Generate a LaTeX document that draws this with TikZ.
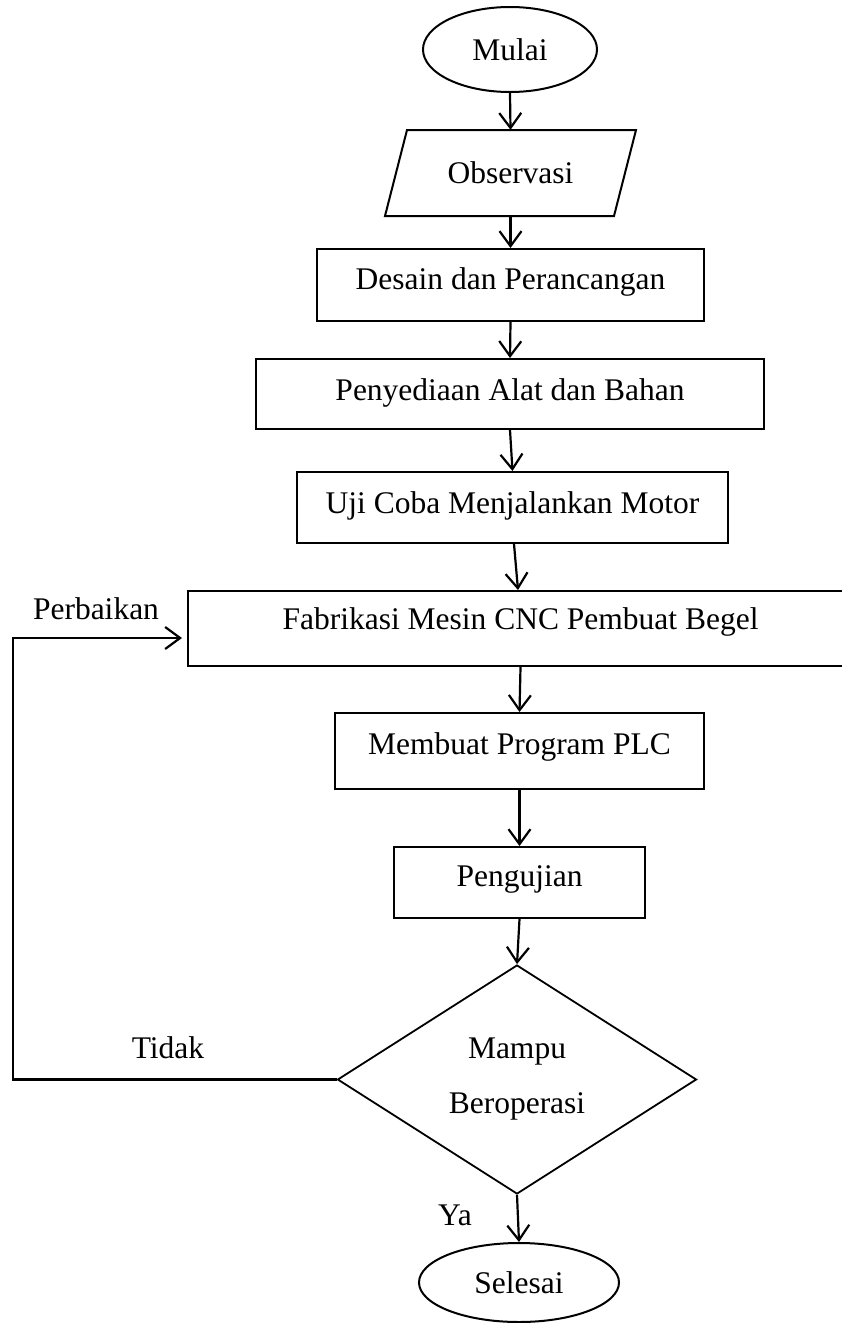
\documentclass[tikz,border=0pt]{standalone}
\usepackage{fontspec}
\setmainfont{Liberation Serif}
\usetikzlibrary{shapes.geometric,arrows.meta,calc}
\begin{document}
\begin{tikzpicture}[x=1pt,y=-1pt,
  every node/.style={font=\fontsize{31.5}{55}\selectfont, inner sep=0pt},
  box/.style={draw, line width=2pt, rectangle},
  term/.style={draw, line width=2pt, ellipse},
  arr/.style={-{Straight Barb[length=15pt,width=22pt]}, line width=2.2pt},
  lift/.style={text depth=#1}
]
\useasboundingbox (0,0) rectangle (841,1323);

\node[term, minimum width=174pt, minimum height=85pt] (mulai) at (510,49.5) {Mulai};

\node[minimum width=200pt, minimum height=86pt] (obs) at (510.5,173) {Observasi};
\draw[line width=2pt] (407,130) -- (636,130) -- (614,216) -- (385,216) -- cycle;

\node[box, minimum width=387pt, minimum height=72pt, lift=12pt] (des) at (510.5,285) {Desain dan Perancangan};
\node[box, minimum width=508pt, minimum height=70pt, lift=9pt] (pen) at (510,394) {Penyediaan Alat dan Bahan};
\node[box, minimum width=431pt, minimum height=71pt, lift=10pt] (uji) at (512.5,507.5) {Uji Coba Menjalankan Motor};
\node[box, minimum width=665pt, minimum height=75pt, lift=20pt] (fab) at (520.5,628.5) {Fabrikasi Mesin CNC Pembuat Begel};
\node[box, minimum width=369pt, minimum height=76pt, lift=15pt] (plc) at (519.5,751) {Membuat Program PLC};
\node[box, minimum width=251pt, minimum height=71pt, lift=13pt] (ujn) at (519.5,882.5) {Pengujian};
\node[draw, diamond, line width=1.8pt, minimum width=359pt, minimum height=229pt, align=center] (dec) at (517,1079.5) {Mampu\\Beroperasi};
\node[term, minimum width=200pt, minimum height=79pt] (sel) at (519,1282.5) {Selesai};

\node (perb) at (96,609) {Perbaikan};
\node (tid) at (168,1048) {Tidak};
\node (ya) at (455,1215) {Ya};

\draw[arr] (mulai.south) -- (obs.north);
\draw[arr] (obs.south) -- (des.north);
\draw[arr] (des.south) -- (pen.north);
\draw[arr] (pen.south) -- (uji.north);
\draw[arr] ([xshift=1.5pt]uji.south) -- ([xshift=-2.5pt]fab.north);
\draw[arr] (fab.south) -- (plc.north);
\draw[arr] (plc.south) -- (ujn.north);
\draw[arr] (ujn.south) -- (dec.north);
\draw[arr] (dec.south) -- (sel.north);
\coordinate (lp) at (13,638);
\draw[arr, shorten >=5pt] (dec.west) -| (lp) -- (lp -| fab.west);
\end{tikzpicture}
\end{document}
